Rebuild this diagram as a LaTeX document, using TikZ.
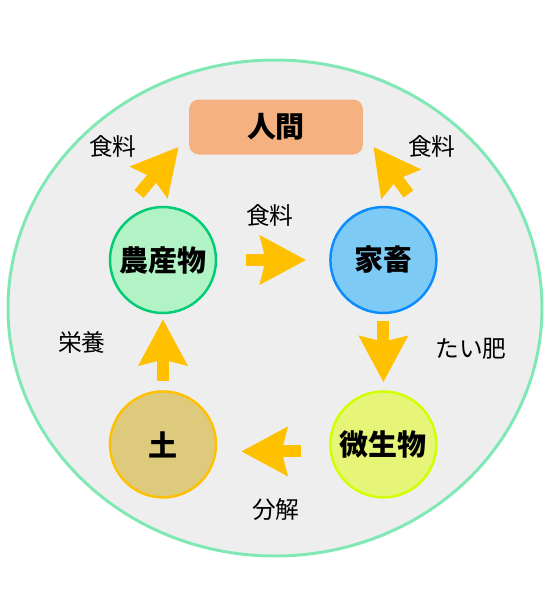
\documentclass[tikz,border=0pt]{standalone}
\usepackage{fontspec}
\setmainfont{Noto Sans CJK JP}
\usepackage{tikz}
\usetikzlibrary{
    positioning,
    arrows.meta
}
\definecolor{RingGreen}{RGB}{128,232,180}
\definecolor{BackGray}{RGB}{238,238,238}
\definecolor{HumanOrange}{RGB}{245,178,128}
\definecolor{CropFill}{RGB}{178,243,198}
\definecolor{CropLine}{RGB}{0,204,120}
\definecolor{StockFill}{RGB}{125,202,245}
\definecolor{StockLine}{RGB}{10,140,255}
\definecolor{MicrobeFill}{RGB}{230,245,120}
\definecolor{MicrobeLine}{RGB}{210,255,0}
\definecolor{SoilFill}{RGB}{222,202,125}
\definecolor{SoilLine}{RGB}{255,192,0}
\definecolor{ArrowGold}{RGB}{255,192,0}

\begin{document}
\begin{tikzpicture}[
    x=0.02cm, y=-0.02cm,
    node distance=2.28cm,
    circ/.style={circle, draw, line width=1.4pt, minimum size=2.12cm, inner sep=0pt, align=center, font=\fontsize{16.5}{18}\selectfont\bfseries},
    human/.style={rectangle, rounded corners=0.2cm, fill=HumanOrange, minimum width=3.48cm, minimum height=1.1cm, font=\fontsize{16.5}{18}\selectfont\bfseries},
    arr/.style={line width=6.8pt, color=ArrowGold, -{Stealth[length=26pt, width=27pt, inset=3pt]}},
    lbl/.style={font=\fontsize{13.5}{15}\selectfont, text=black},
]
\useasboundingbox (0,0) rectangle (550,600);
\draw[line width=1.7pt, draw=RingGreen, fill=BackGray] (275,308) ellipse [x radius=267, y radius=248];

\node[human] (person) at (276,127) {人間};
\node[circ, fill=CropFill, draw=CropLine] (crop) at (163,260) {農産物};
\node[circ, fill=StockFill, draw=StockLine, right=2.24cm of crop] (stock) {家畜};
\node[circ, fill=MicrobeFill, draw=MicrobeLine, below=1.52cm of stock] (microbe) {微生物};
\node[circ, fill=SoilFill, draw=SoilLine, left=2.24cm of microbe] (soil) {土};

\draw[arr, shorten <=0.58cm, shorten >=0.46cm] (crop) -- (stock);
\draw[arr, shorten <=0.14cm, shorten >=0.16cm] (stock) -- (microbe);
\draw[arr, shorten <=0.56cm, shorten >=0.48cm] ([yshift=-0.14cm]microbe.west) -- ([yshift=-0.14cm]soil.east);
\draw[arr, shorten <=0.18cm, shorten >=0.1cm] (soil) -- (crop);

% food to people
\draw[arr] ([shift={(-24,-66)}]crop.center) -- ([shift={(-10,-8)}]person.south west);
\draw[arr] ([shift={(25,-66)}]stock.center) -- ([shift={(10,-8)}]person.south east);

% labels
\node[lbl] (foodl) at (113,146) {食料};
\node[lbl] (foodm) at (270,215) {食料};
\node[lbl] (foodr) at (432,146) {食料};
\node[lbl] (compost) at (471,349) {たい肥};
\node[lbl] (decomp) at (276,510) {分解};
\node[lbl] (nutr) at (82,342) {栄養};
\end{tikzpicture}
\end{document}
